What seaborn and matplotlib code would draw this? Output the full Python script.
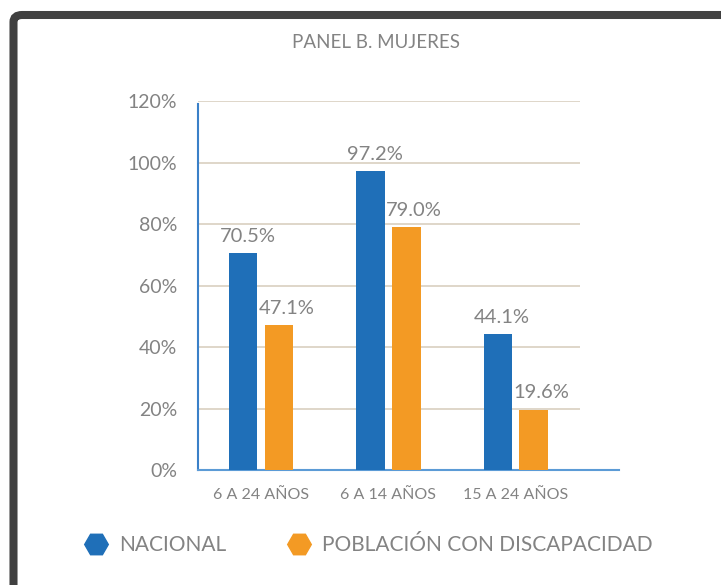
import matplotlib
matplotlib.use("Agg")
import matplotlib.pyplot as plt
import numpy as np
import pandas as pd
import seaborn as sb
from matplotlib.lines import Line2D
from matplotlib.patches import FancyBboxPatch

# datos
grupos = ["6 A 24 AÑOS", "6 A 14 AÑOS", "15 A 24 AÑOS"]
series = ["NACIONAL", "POBLACIÓN CON DISCAPACIDAD"]
nacional = [70.5, 97.2, 44.1]
discapacidad = [47.1, 79.0, 19.6]
yticks = [0, 20, 40, 60, 80, 100, 120]
titulo = "PANEL B. MUJERES"

colores = ["#1f6fb8", "#f39a24"]
gris = "#838383"

t = pd.DataFrame({
    "grupo": grupos * 2,
    "serie": [series[0]] * 3 + [series[1]] * 3,
    "valor": nacional + discapacidad,
})

sb.set_style("white")
plt.rcParams["font.family"] = ["Lato", "DejaVu Sans"]

fig = plt.figure(figsize=(7.21, 5.85), dpi=100)
ax = fig.add_axes([198 / 721, 1 - 470 / 585, 421 / 721, 369 / 585])

sb.barplot(data=t, x="grupo", y="valor", hue="serie", palette=colores,
           saturation=1, width=0.56, gap=0.2, linewidth=0,
           ax=ax, legend=False, zorder=3)

# etiquetas un poco corridas a la derecha, como en el original
for c, dx in zip(ax.containers, [3, 5.5]):
    etiquetas = ax.bar_label(c, labels=[f"{v:.1f}%" for v in c.datavalues], padding=5,
                             fontsize=14.5, color=gris, zorder=10)
    for e in etiquetas:
        e.xyann = (dx, 6)

ax.set_ylim(0, 120)
ax.set_xlim(-0.495, 2.81)
ax.set_yticks(yticks)
ax.set_yticklabels([f"{v}%" for v in yticks], fontsize=14, color=gris)
ax.tick_params(axis="y", length=0, pad=15)
ax.tick_params(axis="x", length=0, pad=13, labelsize=11.5, labelcolor=gris)
ax.set_xlabel("")
ax.set_ylabel("")
ax.hlines(yticks[1:], -0.5, 2.5, color="#d9cfc0", linewidth=1.2, zorder=1)

for s in ["top", "right"]:
    ax.spines[s].set_visible(False)
ax.spines["left"].set_color("#3a80c8")
ax.spines["left"].set_bounds(0, 119)
ax.spines["bottom"].set_color("#5c9bd6")
ax.spines["left"].set_linewidth(1.5)
ax.spines["bottom"].set_linewidth(1.5)

fig.text(376 / 721, 1 - 43 / 585, titulo, ha="center", va="center",
         fontsize=13.5, color=gris)

handles = [Line2D([], [], marker="H", linestyle="", color=c, markersize=17)
           for c in colores]
fig.legend(handles, series, loc="center", bbox_to_anchor=(369 / 721, 1 - 545 / 585),
           ncol=2, frameon=False, fontsize=15, labelcolor=gris,
           handlelength=1.0, handletextpad=0.6, columnspacing=3.0)

# marco oscuro
marco = FancyBboxPatch((13.5 / 721, -0.2), 1.2, 1.2 - 15 / 585,
                       boxstyle="round,pad=0,rounding_size=0.012",
                       transform=fig.transFigure, facecolor="none",
                       edgecolor="#404040", linewidth=5.8)
fig.patches.append(marco)

fig.savefig("out.png", dpi=100)
